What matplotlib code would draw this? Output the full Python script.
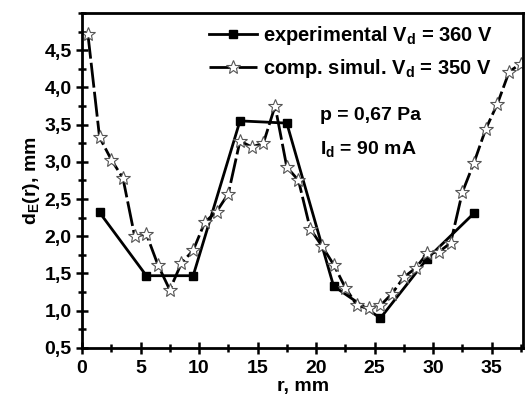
import matplotlib
matplotlib.use("Agg")
import matplotlib.pyplot as plt
from matplotlib.ticker import MultipleLocator, FuncFormatter

plt.rcParams["font.family"] = ["Liberation Sans", "DejaVu Sans"]
plt.rcParams["font.weight"] = "bold"
plt.rcParams["mathtext.fontset"] = "custom"
plt.rcParams["mathtext.rm"] = "Liberation Sans:bold"
plt.rcParams["mathtext.it"] = "Liberation Sans:bold"
plt.rcParams["mathtext.bf"] = "Liberation Sans:bold"

# experimental, V_d = 360 V
r_exp = [1.5, 5.5, 9.5, 13.5, 17.5, 21.5, 25.5, 29.5, 33.5]
d_exp = [2.32, 1.47, 1.47, 3.55, 3.52, 1.33, 0.90, 1.70, 2.31]

# computer simulation, V_d = 350 V
r_sim = [0.5, 1.5, 2.5, 3.5, 4.5, 5.5, 6.5, 7.5, 8.5, 9.5, 10.5, 11.5, 12.5,
         13.5, 14.5, 15.5, 16.5, 17.5, 18.5, 19.5, 20.5, 21.5, 22.5, 23.5,
         24.5, 25.5, 26.5, 27.5, 28.5, 29.5, 30.5, 31.5, 32.5, 33.5, 34.5,
         35.5, 36.5, 37.5]
d_sim = [4.72, 3.33, 3.03, 2.78, 2.00, 2.03, 1.61, 1.28, 1.64, 1.81, 2.19,
         2.33, 2.57, 3.28, 3.20, 3.25, 3.75, 2.93, 2.75, 2.10, 1.87, 1.62,
         1.31, 1.07, 1.03, 1.07, 1.23, 1.45, 1.57, 1.77, 1.79, 1.91, 2.59,
         2.99, 3.44, 3.78, 4.21, 4.32]

FS = 14

fig = plt.figure(figsize=(5.29, 4.05), dpi=100)
ax = fig.add_axes([0.155, 0.141, 0.834, 0.827])

ax.plot(r_exp, d_exp, color="black", linewidth=2, marker="s", markersize=6,
        markerfacecolor="black", label=r"experimental V$_\mathregular{d}$ = 360 V")
ax.plot(r_sim, d_sim, color="black", linewidth=2, dashes=(9, 1.5),
        marker="*", markersize=10, markerfacecolor="white",
        markeredgecolor="#555555", markeredgewidth=0.8,
        label=r"comp. simul. V$_\mathregular{d}$ = 350 V")

ax.set_xlim(0, 37.7)
ax.set_ylim(0.5, 5.0)
ax.xaxis.set_major_locator(MultipleLocator(5))
ax.xaxis.set_minor_locator(MultipleLocator(2.5))
ax.yaxis.set_major_locator(MultipleLocator(0.5))
ax.yaxis.set_minor_locator(MultipleLocator(0.25))
ax.yaxis.set_major_formatter(FuncFormatter(lambda v, p: f"{v:.1f}".replace(".", ",")))
ax.set_yticks([0.5, 1.0, 1.5, 2.0, 2.5, 3.0, 3.5, 4.0, 4.5])
ax.tick_params(which="major", direction="inout", length=9, width=1.8,
               labelsize=FS)
ax.tick_params(axis="x", which="major", pad=4)
ax.tick_params(axis="y", which="major", pad=3)
ax.tick_params(which="minor", direction="inout", length=6, width=1.8)
for s in ax.spines.values():
    s.set_linewidth(2)

ax.set_xlabel("r, mm", fontsize=FS, fontweight="bold", labelpad=1)
ax.set_ylabel(r"d$_\mathregular{E}$(r), mm", fontsize=FS, fontweight="bold",
              labelpad=2)

ax.text(20.3, 3.62, "p = 0,67 Pa", fontsize=FS, fontweight="bold", va="center")
ax.text(20.3, 3.17, r"I$_\mathregular{d}$ = 90 mA", fontsize=FS,
        fontweight="bold", va="center")

ax.legend(loc="upper right", frameon=False, fontsize=14.5, handlelength=2.4,
          borderaxespad=0.0, handletextpad=0.3, labelspacing=0.5,
          bbox_to_anchor=(0.95, 0.99))

fig.savefig("out.png", dpi=100)
